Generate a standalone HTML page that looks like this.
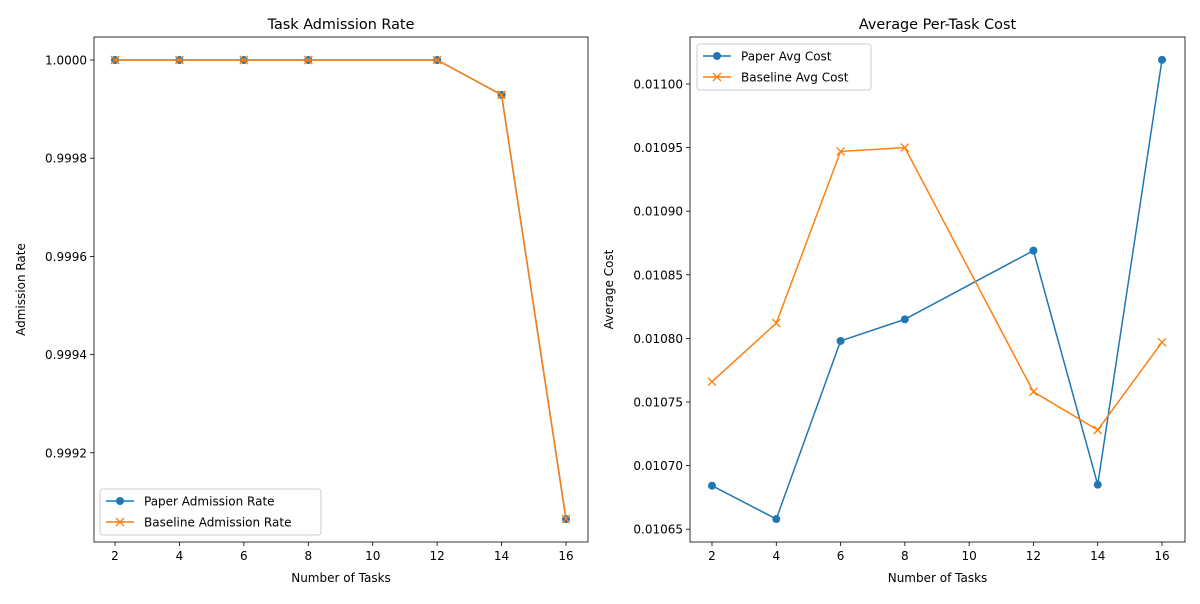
<!DOCTYPE html>
<html><head><meta charset="utf-8"><style>
body{margin:0;background:#fff;font-family:"DejaVu Sans","Liberation Sans",sans-serif;}
svg text{font-family:"DejaVu Sans","Liberation Sans",sans-serif;fill:#000;}
</style></head><body>
<svg id="c" width="1200" height="600" xmlns="http://www.w3.org/2000/svg"></svg>
<script>
const tasks = [2, 4, 6, 8, 12, 14, 16];
const paperAdmission = [1.0, 1.0, 1.0, 1.0, 1.0, 0.999929, 0.999065];
const baselineAdmission = [1.0, 1.0, 1.0, 1.0, 1.0, 0.999929, 0.999065];
const paperCost = [0.0106842, 0.010658, 0.010798, 0.010815, 0.010869, 0.010685, 0.011019];
const baselineCost = [0.010766, 0.010812, 0.010947, 0.010950, 0.010758, 0.010728, 0.010797];
const xTicks = [2, 4, 6, 8, 10, 12, 14, 16];
const leftYTicks = [0.9992, 0.9994, 0.9996, 0.9998, 1.0];
const leftYLabels = ["0.9992", "0.9994", "0.9996", "0.9998", "1.0000"];
const rightYTicks = [0.01065, 0.0107, 0.01075, 0.0108, 0.01085, 0.0109, 0.01095, 0.011];
const rightYLabels = ["0.01065", "0.01070", "0.01075", "0.01080", "0.01085", "0.01090", "0.01095", "0.01100"];

const NS = "http://www.w3.org/2000/svg";
const svg = document.getElementById('c');
function el(tag, attrs, parent, txt) {
  const e = document.createElementNS(NS, tag);
  for (const k in attrs) e.setAttribute(k, attrs[k]);
  if (txt !== undefined) e.textContent = txt;
  (parent || svg).appendChild(e);
  return e;
}
const BLUE = "#1f77b4", ORANGE = "#ff7f0e";

function panel(cfg) {
  const g = el('g', {});
  
  
  const xs = v => cfg.x0 + (v - 2) * (cfg.x1 - cfg.x0) / 14;
  const ys = v => cfg.yRefPx + (cfg.yRefVal - v) * cfg.pxPerUnit;
  xTicks.forEach(t => {
    el('line', {x1: xs(t), x2: xs(t), y1: cfg.bottom, y2: cfg.bottom + 4, stroke: '#000', 'stroke-width': 0.8}, g);
    const tx = el('text', {x: xs(t), y: cfg.bottom + 18, 'font-size': 12, 'text-anchor': 'middle'}, g, String(t));
    
    
  });
  cfg.yTicks.forEach((t, i) => {
    el('line', {x1: cfg.left - 4, x2: cfg.left, y1: ys(t), y2: ys(t), stroke: '#000', 'stroke-width': 0.8}, g);
    const ty = el('text', {x: cfg.left - 7, y: ys(t) + 4.5, 'font-size': 12, 'text-anchor': 'end'}, g, cfg.yLabels[i]);
    
    
  });
  function series(vals, color, marker, nm) {
    const sg = el('g', {}, g);
    
    
    el('polyline', {points: tasks.map((t, i) => xs(t) + ',' + ys(vals[i])).join(' '), fill: 'none', stroke: color, 'stroke-width': 1.5}, sg);
    tasks.forEach((t, i) => {
      const x = xs(t), y = ys(vals[i]);
      if (marker === 'o') el('circle', {cx: x, cy: y, r: 4, fill: color}, sg);
      else el('path', {d: `M${x-4},${y-4}L${x+4},${y+4}M${x-4},${y+4}L${x+4},${y-4}`, stroke: color, 'stroke-width': 1.3}, sg);
    });
  }
  series(cfg.s1, BLUE, 'o', cfg.s1name);
  series(cfg.s2, ORANGE, 'x', cfg.s2name);
  el('rect', {x: cfg.left, y: cfg.top, width: cfg.right - cfg.left, height: cfg.bottom - cfg.top, fill: 'none', stroke: '#000', 'stroke-width': 0.8}, g);
  const t = el('text', {x: (cfg.left + cfg.right) / 2, y: cfg.top - 8, 'font-size': 14.4, 'text-anchor': 'middle'}, g, cfg.title);
  
  
  const xl = el('text', {x: (cfg.left + cfg.right) / 2, y: 582, 'font-size': 12, 'text-anchor': 'middle'}, g, 'Number of Tasks');
  
  
  const cy = (cfg.top + cfg.bottom) / 2;
  const yl = el('text', {x: cfg.yTitleX, y: cy, 'font-size': 12, 'text-anchor': 'middle', transform: `rotate(-90 ${cfg.yTitleX} ${cy})`}, g, cfg.yTitle);
  
  
  const lg = el('g', {}, g);
  
  
  el('rect', {x: cfg.lx, y: cfg.ly, width: cfg.lw, height: 46, rx: 3, fill: '#fff', 'fill-opacity': 0.8, stroke: '#ccc', 'stroke-width': 1}, lg);
  [[BLUE, 'o', cfg.s1label], [ORANGE, 'x', cfg.s2label]].forEach((e, i) => {
    const y = cfg.ly + 12 + i * 21;
    const x0 = cfg.lx + 6;
    el('line', {x1: x0, x2: x0 + 28, y1: y, y2: y, stroke: e[0], 'stroke-width': 1.5}, lg);
    const mx = x0 + 14;
    if (e[1] === 'o') el('circle', {cx: mx, cy: y, r: 4, fill: e[0]}, lg);
    else el('path', {d: `M${mx-4},${y-4}L${mx+4},${y+4}M${mx-4},${y+4}L${mx+4},${y-4}`, stroke: e[0], 'stroke-width': 1.3}, lg);
    const lt = el('text', {x: x0 + 38, y: y + 4.5, 'font-size': 12}, lg, e[2]);
    
    
  });
}

panel({name: 'admission-rate-chart', left: 94, right: 588, top: 37, bottom: 542, x0: 115, x1: 566,
  yRefVal: 1.0, yRefPx: 60, pxPerUnit: 98.2 / 0.0002, yTicks: leftYTicks, yLabels: leftYLabels,
  s1: paperAdmission, s2: baselineAdmission, s1name: 'paper-admission-series', s2name: 'baseline-admission-series',
  s1label: 'Paper Admission Rate', s2label: 'Baseline Admission Rate',
  title: 'Task Admission Rate', yTitle: 'Admission Rate', yTitleX: 25, lx: 100, ly: 489, lw: 221});

panel({name: 'average-cost-chart', left: 690, right: 1185, top: 37, bottom: 542, x0: 712, x1: 1162,
  yRefVal: 0.011, yRefPx: 84, pxPerUnit: 63.6 / 0.00005, yTicks: rightYTicks, yLabels: rightYLabels,
  s1: paperCost, s2: baselineCost, s1name: 'paper-cost-series', s2name: 'baseline-cost-series',
  s1label: 'Paper Avg Cost', s2label: 'Baseline Avg Cost',
  title: 'Average Per-Task Cost', yTitle: 'Average Cost', yTitleX: 613, lx: 697, ly: 44, lw: 174});
</script>
</body></html>
